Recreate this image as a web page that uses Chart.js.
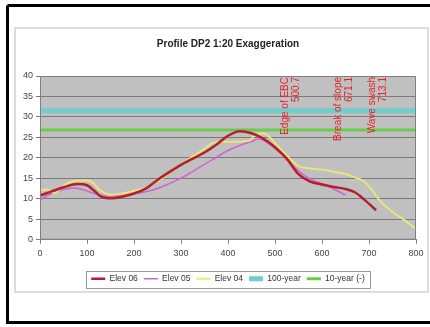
<!DOCTYPE html>
<html>
<head>
<meta charset="utf-8">
<script src="https://cdn.jsdelivr.net/npm/chart.js@4.4.1/dist/chart.umd.min.js"></script>
<style>
html,body{margin:0;padding:0;background:#fff;}
#wrap{position:relative;width:430px;height:327px;}
</style>
</head>
<body>
<div id="wrap"><canvas id="c" width="430" height="327"></canvas></div>
<script>
const chartTitle = 'Profile DP2 1:20 Exaggeration';
const seriesNames = ['Elev 06', 'Elev 05', 'Elev 04', '100-year', '10-year (-)'];

const elev06X = [0, 25, 50, 80, 100, 115, 130, 150, 175, 200, 225, 250, 275, 300, 325, 350, 375, 400, 425, 450, 475, 500, 525, 550, 575, 600, 625, 650, 670, 690, 715];
const elev06Y = [10.8, 11.8, 12.8, 13.6, 13.3, 12.0, 10.5, 10.1, 10.5, 11.3, 12.5, 14.6, 16.5, 18.3, 19.8, 21.3, 23.2, 25.4, 26.5, 26.0, 24.7, 22.6, 19.8, 16.0, 14.2, 13.5, 12.9, 12.4, 11.6, 9.8, 7.2];

const elev05X = [0, 25, 50, 75, 100, 125, 150, 175, 200, 225, 250, 275, 300, 325, 350, 375, 400, 425, 450, 465, 480, 500, 525, 550, 575, 600, 625, 650];
const elev05Y = [9.8, 11.3, 12.3, 12.6, 11.9, 11.0, 10.5, 10.7, 11.2, 11.7, 12.5, 13.7, 15.0, 16.7, 18.4, 20.1, 21.8, 23.0, 24.0, 24.6, 24.0, 22.3, 19.7, 16.8, 14.8, 13.7, 12.4, 10.9];

const elev04X = [0, 15, 30, 50, 75, 100, 112, 125, 140, 150, 175, 200, 225, 250, 275, 300, 325, 350, 365, 380, 400, 425, 445, 460, 475, 490, 500, 525, 550, 575, 600, 625, 650, 670, 690, 710, 725, 750, 775, 800];
const elev04Y = [12.0, 12.3, 11.4, 13.2, 14.4, 14.5, 14.0, 12.4, 11.3, 11.0, 11.3, 11.9, 12.7, 14.2, 16.3, 18.4, 20.3, 22.2, 23.5, 23.9, 23.9, 24.0, 24.2, 25.8, 26.0, 24.9, 23.6, 20.6, 18.0, 17.4, 17.1, 16.6, 16.0, 15.2, 14.2, 11.6, 9.3, 6.8, 4.8, 2.6];

const hundredYearX = [0, 800];
const hundredYearY = [31.5, 31.5];
const tenYearX = [0, 800];
const tenYearY = [26.8, 26.8];

const xTicks = [0, 100, 200, 300, 400, 500, 600, 700, 800];
const yTicks = [0, 5, 10, 15, 20, 25, 30, 35, 40];

const markerValues = [500.7, 671.1, 713.1];
const markerLabels = [['Edge of EBC', '500.7'], ['Break of slope', '671.1'], ['Wave swash', '713.1']];

function pts(xs, ys) { return xs.map((x, i) => ({ x: x, y: ys[i] })); }

const FONT = 'Arial, "Liberation Sans", sans-serif';

const frame = {
  id: 'frame',
  beforeDraw(chart) {
    const c = chart.ctx;
    c.save();
    c.fillStyle = '#fff';
    c.fillRect(0, 0, chart.width, chart.height);
    c.strokeStyle = '#000';
    c.lineWidth = 3;
    c.beginPath();
    c.moveTo(7.5, 5.5); c.lineTo(432, 5.5);
    c.moveTo(7.5, 5.5); c.lineTo(7.5, 322.5);
    c.lineTo(432, 322.5);
    c.stroke();
    c.strokeStyle = '#dcdcdc';
    c.lineWidth = 2;
    c.strokeRect(15, 28, 413, 264);
    const a = chart.chartArea;
    c.fillStyle = '#c0c0c0';
    c.fillRect(a.left, a.top, a.right - a.left, a.bottom - a.top);
    c.restore();
  },
  afterDatasetsDraw(chart) {
    const c = chart.ctx;
    const a = chart.chartArea;
    const xs = chart.scales.x;
    const offsets = [10, -17.5, -2.5];
    c.save();
    c.strokeStyle = '#808080';
    c.lineWidth = 1;
    c.strokeRect(a.left + 0.5, a.top + 0.5, a.right - a.left - 1, a.bottom - a.top - 1);
    c.fillStyle = '#e8202a';
    c.font = '10px ' + FONT;
    c.textAlign = 'right';
    c.textBaseline = 'middle';
    markerValues.forEach((v, i) => {
      const px = xs.getPixelForValue(v) + offsets[i];
      markerLabels[i].forEach((line, j) => {
        c.save();
        c.translate(px + j * 11, a.top + 1);
        c.rotate(-Math.PI / 2);
        c.fillText(line, 0, 0);
        c.restore();
      });
    });
    c.restore();
  },
  afterDraw(chart) {
    const lg = chart.legend;
    if (!lg || !lg.legendHitBoxes || !lg.legendHitBoxes.length) return;
    const hb = lg.legendHitBoxes;
    let l = Infinity, r = -Infinity, t = Infinity, b = -Infinity;
    hb.forEach(h => { l = Math.min(l, h.left); r = Math.max(r, h.left + h.width); t = Math.min(t, h.top); b = Math.max(b, h.top + h.height); });
    const c = chart.ctx;
    c.save();
    c.strokeStyle = '#9a9a9a';
    c.lineWidth = 1;
    c.strokeRect(Math.round(l - 5) + 0.5, Math.round(t - 4) + 0.5, Math.round(r - l + 10), Math.round(b - t + 8));
    c.restore();
  }
};

new Chart(document.getElementById('c'), {
  type: 'line',
  data: {
    datasets: [
      { label: seriesNames[0], data: pts(elev06X, elev06Y), borderColor: '#b3202a', backgroundColor: '#b3202a', borderWidth: 2.5, order: 1 },
      { label: seriesNames[1], data: pts(elev05X, elev05Y), borderColor: '#d066d6', backgroundColor: '#d066d6', borderWidth: 1.6, order: 3 },
      { label: seriesNames[2], data: pts(elev04X, elev04Y), borderColor: '#ece872', backgroundColor: '#ece872', borderWidth: 1.8, order: 2 },
      { label: seriesNames[3], data: pts(hundredYearX, hundredYearY), borderColor: '#72cccc', backgroundColor: '#72cccc', borderWidth: 5, order: 5, tension: 0 },
      { label: seriesNames[4], data: pts(tenYearX, tenYearY), borderColor: '#6acc4c', backgroundColor: '#6acc4c', borderWidth: 3, order: 4, tension: 0 }
    ]
  },
  options: {
    responsive: false,
    animation: false,
    devicePixelRatio: 1,
    layout: { padding: { left: 0, right: 14, top: 38, bottom: 34 } },
    elements: { point: { radius: 0 }, line: { cubicInterpolationMode: 'monotone' } },
    plugins: {
      title: {
        display: true, text: chartTitle, color: '#222', fullSize: false,
        font: { family: FONT, size: 10, weight: 'bold' },
        padding: { top: 0, bottom: 26 }
      },
      legend: {
        position: 'bottom', fullSize: false,
        labels: {
          usePointStyle: true, pointStyle: 'line', pointStyleWidth: 14,
          color: '#333', padding: 6,
          font: { family: FONT, size: 8.5 },
          sort: (a, b) => a.datasetIndex - b.datasetIndex
        }
      },
      tooltip: { enabled: false }
    },
    scales: {
      x: {
        type: 'linear', min: 0, max: 800,
        afterBuildTicks(s) { s.ticks = xTicks.map(v => ({ value: v })); },
        afterFit(s) { s.height += 6; },
        grid: { display: true, drawOnChartArea: false, drawTicks: true, tickLength: 4, color: '#808080' },
        border: { display: true, color: '#808080' },
        ticks: { color: '#444', padding: 4, maxRotation: 0, font: { family: FONT, size: 9 } }
      },
      y: {
        min: 0, max: 40,
        afterBuildTicks(s) { s.ticks = yTicks.map(v => ({ value: v })); },
        afterFit(s) { s.width = 40; },
        grid: { color: '#7a7a7a', lineWidth: 1, tickLength: 4, drawTicks: true },
        border: { display: true, color: '#808080' },
        ticks: { color: '#444', padding: 3, font: { family: FONT, size: 9 } }
      }
    }
  },
  plugins: [frame]
});
</script>
</body>
</html>
